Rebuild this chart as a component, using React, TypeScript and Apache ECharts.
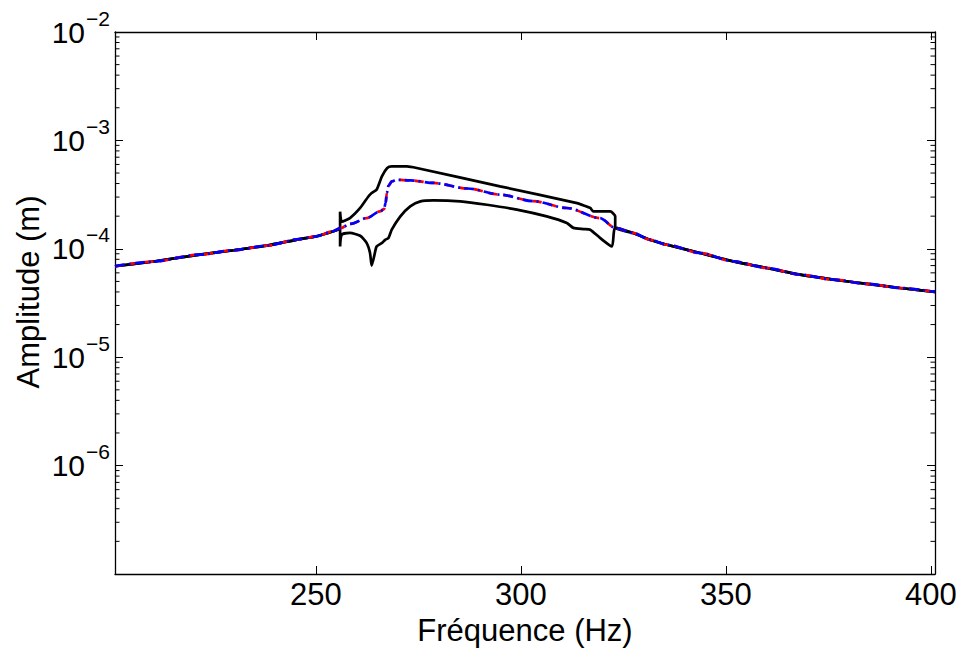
import React, { useEffect, useRef } from "react";
import * as echarts from "echarts";

// Mean response (red dashed / blue dash-dot), frequency in Hz, amplitude in m
const meanFreq = [201, 210, 221.7, 230, 238, 246.1, 250, 254.2, 255.9, 258.5, 262.4, 265.6, 266.6, 267.0, 267.3, 267.7, 268.5, 269.7, 273, 278.7, 287, 294.9, 303, 311.2, 319.3, 323, 327.4, 331.5, 335.6, 343.7, 351.8, 360, 368.1, 376.2, 384.4, 392.5, 401];
const meanAmp = [6.9e-5, 7.6e-5, 8.83e-5, 9.7e-5, 1.07e-4, 1.23e-4, 1.3e-4, 1.45e-4, 1.55e-4, 1.7e-4, 1.92e-4, 2.21e-4, 2.32e-4, 2.64e-4, 3.27e-4, 3.81e-4, 4.18e-4, 4.33e-4, 4.28e-4, 4.05e-4, 3.6e-4, 3.16e-4, 2.75e-4, 2.38e-4, 1.92e-4, 1.56e-4, 1.4e-4, 1.21e-4, 1.09e-4, 9.14e-5, 7.66e-5, 6.65e-5, 5.77e-5, 5.2e-5, 4.75e-5, 4.35e-5, 4.0e-5];

// Upper envelope (black) inside the non-linear zone
const upperFreq = [255.9, 256.3, 258.3, 260.8, 262.8, 263.6, 264.8, 266.1, 267.4, 268.5, 272.2, 274.6, 294.9, 313.7, 315.5, 316.9, 317.7, 321.8, 323.0, 323.0];
const upperAmp = [2.2e-4, 1.78e-4, 1.92e-4, 2.38e-4, 3.04e-4, 3.27e-4, 3.51e-4, 4.66e-4, 5.56e-4, 5.75e-4, 5.75e-4, 5.56e-4, 3.77e-4, 2.64e-4, 2.5e-4, 2.38e-4, 2.21e-4, 2.21e-4, 1.99e-4, 1.56e-4];

// Lower envelope (black) inside the non-linear zone
const lowerFreq = [255.9, 256.3, 258.3, 260.8, 262.4, 263.2, 263.6, 264.2, 264.8, 266.1, 266.9, 267.7, 268.5, 270.6, 273.0, 275.5, 278.7, 285.2, 291.7, 299.0, 306.3, 311.2, 312.8, 315.3, 316.9, 319.3, 322.2, 323.0];
const lowerAmp = [1.05e-4, 1.35e-4, 1.4e-4, 1.32e-4, 1.13e-4, 9.14e-5, 7.0e-5, 8.5e-5, 1.05e-4, 1.13e-4, 1.21e-4, 1.26e-4, 1.5e-4, 1.99e-4, 2.46e-4, 2.74e-4, 2.8e-4, 2.74e-4, 2.55e-4, 2.3e-4, 1.99e-4, 1.73e-4, 1.56e-4, 1.52e-4, 1.5e-4, 1.26e-4, 1.05e-4, 1.56e-4];

const xTicks = [250, 300, 350, 400];
const xMin = 201;
const xMax = 401;
const yMin = 1e-7;
const yMax = 1e-2;

const FONT = "'Liberation Sans', Arial, Helvetica, sans-serif";

function pairs(f: number[], a: number[]) {
  return f.map((v, i) => [v, a[i]]);
}

function envelope(f: number[], a: number[]) {
  const left = pairs(meanFreq, meanAmp).filter((p) => p[0] <= 255.9);
  const right = pairs(meanFreq, meanAmp).filter((p) => p[0] > 323.0);
  return [...left, ...pairs(f, a), ...right];
}

export default function App() {
  const ref = useRef<HTMLDivElement>(null);
  useEffect(() => {
    document.body.style.margin = "0";
    const chart = echarts.init(ref.current!, null, { renderer: "svg" });

    const minorVals: number[][] = [];
    for (let e = -7; e <= -3; e++) {
      for (let m = 2; m <= 9; m++) minorVals.push([xMin, m * Math.pow(10, e)]);
    }

    const yAxisCommon = {
      type: "log" as const,
      logBase: 10,
      min: yMin,
      max: yMax,
      splitLine: { show: false },
      axisLine: { show: true, lineStyle: { color: "#000", width: 1.3 } },
      axisTick: { show: true, inside: true, length: 8, lineStyle: { color: "#000", width: 1 } },
    };

    const option: any = {
      animation: false,
      backgroundColor: "#fff",
      grid: { left: 115, top: 32, right: 28, bottom: 74, containLabel: false },
      xAxis: [
        {
          type: "value",
          min: xMin,
          max: xMax,
          position: "bottom",
          splitLine: { show: false },
          axisLine: { show: true, onZero: false, lineStyle: { color: "#000", width: 1.3 } },
          axisTick: { show: true, inside: true, length: 8, customValues: xTicks, lineStyle: { color: "#000" } },
          axisLabel: { customValues: xTicks, color: "#000", fontSize: 31, fontFamily: FONT, margin: 5 },
        },
        {
          type: "value",
          min: xMin,
          max: xMax,
          position: "top",
          splitLine: { show: false },
          axisLine: { show: true, onZero: false, lineStyle: { color: "#000", width: 1.3 } },
          axisTick: { show: true, inside: true, length: 8, customValues: xTicks, lineStyle: { color: "#000" } },
          axisLabel: { show: false },
        },
      ],
      yAxis: [
        {
          ...yAxisCommon,
          position: "left",
          axisLabel: {
            color: "#000",
            margin: 5,
            showMinLabel: false,
            formatter: (v: number) => {
              const e = Math.round(Math.log10(v));
              return `{b|10}{s|\u2212${Math.abs(e)}}`;
            },
            rich: {
              b: { fontSize: 30, lineHeight: 36, fontFamily: FONT, color: "#000" },
              s: { fontSize: 21, lineHeight: 20, fontFamily: FONT, color: "#000", verticalAlign: "middle", padding: [0, 0, 28, 1] },
            },
          },
        },
        {
          ...yAxisCommon,
          position: "right",
          axisLabel: { show: false },
        },
      ],
      graphic: [
        {
          type: "text",
          x: 525,
          y: 630,
          style: {
            text: "Fréquence (Hz)",
            fontSize: 31,
            fontFamily: FONT,
            fill: "#000",
            align: "center",
            verticalAlign: "middle",
          },
        },
        {
          type: "text",
          x: 28,
          y: 292,
          rotation: Math.PI / 2,
          style: {
            text: "Amplitude (m)",
            fontSize: 31,
            fontFamily: FONT,
            fill: "#000",
            align: "center",
            verticalAlign: "middle",
          },
        },
      ],
      series: [
        {
          type: "custom",
          coordinateSystem: "cartesian2d",
          xAxisIndex: 0,
          yAxisIndex: 0,
          silent: true,
          data: minorVals,
          encode: { x: 0, y: 1 },
          renderItem: (params: any, api: any) => {
            const v = api.value(1);
            const pL = api.coord([xMin, v]);
            const pR = api.coord([xMax, v]);
            const st = { stroke: "#000", lineWidth: 1 };
            return {
              type: "group",
              children: [
                { type: "line", shape: { x1: pL[0], y1: pL[1], x2: pL[0] + 4.5, y2: pL[1] }, style: st },
                { type: "line", shape: { x1: pR[0] - 4.5, y1: pR[1], x2: pR[0], y2: pR[1] }, style: st },
              ],
            };
          },
        },
        {
          name: "upper",
          type: "line",
          data: envelope(upperFreq, upperAmp),
          showSymbol: false,
          symbol: "none",
          smooth: 0.2,
          lineStyle: { color: "#000", width: 2.7 },
          z: 3,
        },
        {
          name: "lower",
          type: "line",
          data: envelope(lowerFreq, lowerAmp),
          showSymbol: false,
          symbol: "none",
          smooth: 0.2,
          lineStyle: { color: "#000", width: 2.7 },
          z: 3,
        },
        {
          name: "red",
          type: "line",
          data: pairs(meanFreq, meanAmp),
          showSymbol: false,
          symbol: "none",
          smooth: 0.3,
          smoothMonotone: "x",
          lineStyle: { color: "#ff0000", width: 2.7, type: [9, 6] },
          z: 4,
        },
        {
          name: "blue",
          type: "line",
          data: pairs(meanFreq, meanAmp),
          showSymbol: false,
          symbol: "none",
          smooth: 0.3,
          smoothMonotone: "x",
          lineStyle: { color: "#0000ff", width: 2.7, type: [10, 4, 2, 4] },
          z: 5,
        },
      ],
    };
    chart.setOption(option);
    return () => chart.dispose();
  }, []);
  return <div ref={ref} style={{ width: 963, height: 648 }} />;
}
